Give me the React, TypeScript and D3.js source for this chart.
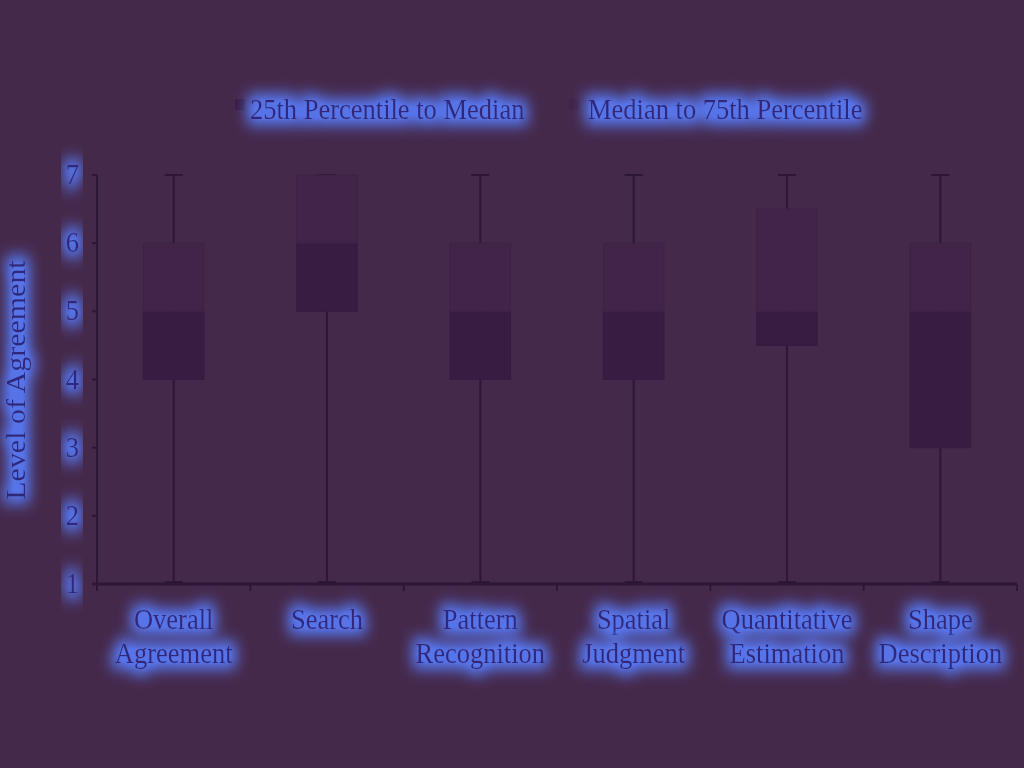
import React from "react";
import * as d3 from "d3";

const categories = [
  ["Overall", "Agreement"],
  ["Search"],
  ["Pattern", "Recognition"],
  ["Spatial", "Judgment"],
  ["Quantitative", "Estimation"],
  ["Shape", "Description"],
];
const minValues = [1, 1, 1, 1, 1, 1];
const q1Values = [4, 5, 4, 4, 4.5, 3];
const medianValues = [5, 6, 5, 5, 5, 5];
const q3Values = [6, 7, 6, 6, 6.5, 6];
const maxValues = [7, 7, 7, 7, 7, 7];
const yTicks = [1, 2, 3, 4, 5, 6, 7];
const legendLabels = ["25th Percentile to Median", "Median to 75th Percentile"];

const W = 1024;
const H = 768;
const BG = "#45294b";
const LOW = "#391c42";
const HIGH = "#412448";
const DARK = "#2d1637";
const TEXT = "#33287a";
const FONT = "'Liberation Serif', 'Times New Roman', serif";
const FS = 26.5;
const SY = 1.13;

function T({ x, y, anchor = "start", children }: { x: number; y: number; anchor?: string; children: React.ReactNode }) {
  return (
    <text
      transform={`translate(${x},${y}) scale(1,${SY})`}
      textAnchor={anchor}
      fontFamily={FONT}
      fontSize={FS}
      fill={TEXT}
      filter="url(#glow)"
    >
      {children}
    </text>
  );
}

export default function App() {
  const keys = categories.map((c) => c.join(" "));
  const x = d3.scaleBand<string>().domain(keys).range([97, 1017]).padding(0);
  const y = d3.scaleLinear().domain([1, 7]).range([584, 175]);
  const bw = x.bandwidth();
  const boxW = bw * 0.395;
  const capW = 18;

  return (
    <svg width={W} height={H} style={{ position: "absolute", left: 0, top: 0, display: "block" }}>
      <defs>
        <filter id="glow" x="-30%" y="-80%" width="160%" height="260%">
          <feMorphology in="SourceAlpha" operator="dilate" radius="4" result="d" />
          <feGaussianBlur in="d" stdDeviation="7" result="b" />
          <feComponentTransfer in="b" result="b2">
            <feFuncA type="linear" slope="1.25" />
          </feComponentTransfer>
          <feFlood floodColor="#5777f0" floodOpacity="0.95" result="c" />
          <feComposite in="c" in2="b2" operator="in" result="g" />
          <feMerge>
            <feMergeNode in="g" />
            <feMergeNode in="SourceGraphic" />
          </feMerge>
        </filter>
      </defs>
      <rect x={0} y={0} width={W} height={H} fill={BG} />

      {/* legend */}
      <rect x={235} y={99} width={10} height={11} fill={LOW} />
      <T x={250} y={119}>{legendLabels[0]}</T>
      <rect x={569} y={99} width={10} height={11} fill={HIGH} />
      <T x={588} y={119}>{legendLabels[1]}</T>

      {/* boxes */}
      {keys.map((k, i) => {
        const cx = (x(k) as number) + bw / 2;
        return (
          <g key={k}>
            <line x1={cx} x2={cx} y1={y(maxValues[i])} y2={y(minValues[i])} stroke={DARK} strokeWidth={2} />
            <line x1={cx - capW / 2} x2={cx + capW / 2} y1={y(maxValues[i])} y2={y(maxValues[i])} stroke={DARK} strokeWidth={2} />
            <line x1={cx - capW / 2} x2={cx + capW / 2} y1={y(minValues[i]) - 2} y2={y(minValues[i]) - 2} stroke={DARK} strokeWidth={2} />
            <rect x={cx - boxW / 2} y={y(medianValues[i])} width={boxW} height={y(q1Values[i]) - y(medianValues[i])} fill={LOW} stroke="#371b41" strokeWidth={1} />
            <rect x={cx - boxW / 2} y={y(q3Values[i])} width={boxW} height={y(medianValues[i]) - y(q3Values[i])} fill={HIGH} stroke="#3f2247" strokeWidth={1} />
          </g>
        );
      })}

      {/* y axis */}
      <line x1={97} x2={97} y1={175} y2={590} stroke={DARK} strokeWidth={2} />
      {yTicks.map((t) => (
        <g key={t}>
          <line x1={92} x2={97} y1={y(t)} y2={y(t)} stroke={DARK} strokeWidth={2} />
          <T x={79} y={y(t) + 9} anchor="end">{t}</T>
        </g>
      ))}
      <text
        transform={`translate(25,380) rotate(-90) scale(${SY},1)`}
        textAnchor="middle"
        fontFamily={FONT}
        fontSize={FS}
        fill={TEXT}
        filter="url(#glow)"
      >
        Level of Agreement
      </text>

      {/* x axis */}
      <line x1={92} x2={1017} y1={584} y2={584} stroke={DARK} strokeWidth={3} />
      {[...keys.map((k) => x(k) as number), 1017].map((v, i) => (
        <line key={i} x1={v} x2={v} y1={584} y2={591} stroke={DARK} strokeWidth={2} />
      ))}
      {keys.map((k, i) => {
        const cx = (x(k) as number) + bw / 2;
        return (
          <g key={k}>
            {categories[i].map((line, j) => (
              <T key={j} x={cx} y={629 + j * 34} anchor="middle">{line}</T>
            ))}
          </g>
        );
      })}
    </svg>
  );
}
